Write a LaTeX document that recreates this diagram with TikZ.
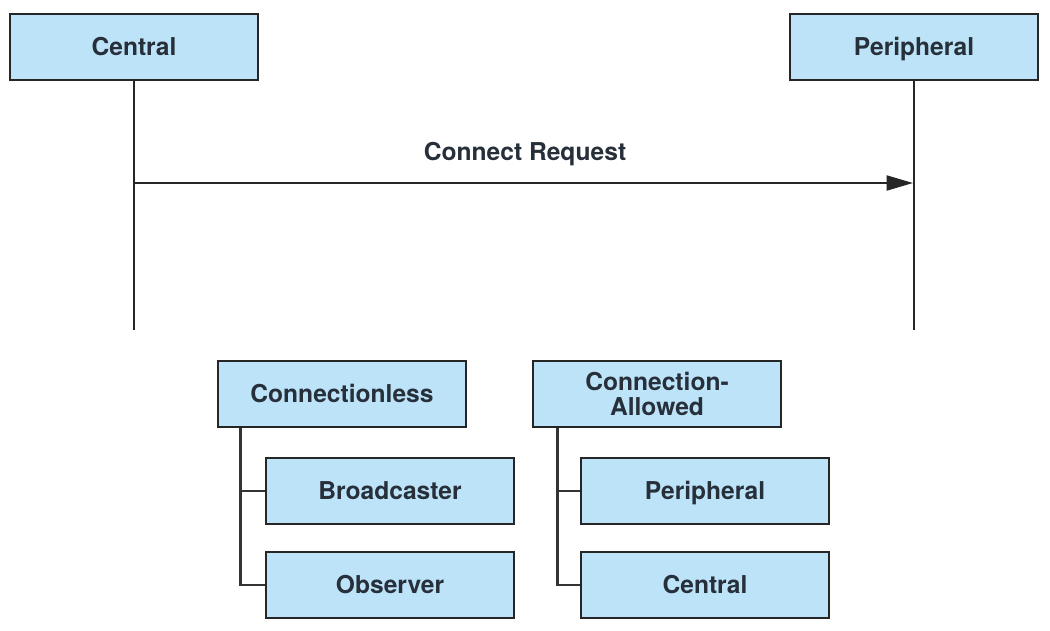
\documentclass[tikz,border=0pt]{standalone}
\usepackage{fontspec}
\setmainfont{TeX Gyre Heros}
\usepackage{tikz}
\usetikzlibrary{arrows.meta}
\definecolor{boxfill}{HTML}{BDE3F8}
\definecolor{boxtext}{HTML}{27303A}

\begin{document}
\begin{tikzpicture}[x=0.02cm, y=-0.02cm,
    rolebox/.style={draw=black!85, line width=1.6pt, fill=boxfill, text=boxtext,
        minimum width=4.96cm, minimum height=1.32cm, inner sep=0pt,
        font=\fontsize{14}{14.7}\selectfont\bfseries, align=center},
    role/.style={rolebox, text height=1.9ex, text depth=0.1ex},
    life/.style={black!85, line width=1.2pt},
    branch/.style={black!80, line width=1.5pt}]
    \useasboundingbox (0,0) rectangle (1050,630);
    % top: roles of the link
    \node[role] (central) at (134,47) {Central};
    \node[role] (peripheral) at (914,47) {Peripheral};
    \coordinate (centralend) at (134,330);
    \coordinate (peripheralend) at (914,330);
    \draw[life] (central) -- (centralend);
    \draw[life] (peripheral) -- (peripheralend);
    \coordinate (reqstart) at (134,183);
    \coordinate (reqend) at (913,183);
    \draw[life, -{Triangle[length=15pt, width=8.5pt]}] (reqstart) -- (reqend);
    \node[text=boxtext, font=\fontsize{14}{14.7}\selectfont\bfseries] (reqlabel) at (525,154) {Connect Request};
    % bottom: the two families
    \node[role] (connless) at (342,394) {Connectionless};
    \node[role] (bcast) at (390,491) {Broadcaster};
    \node[role] (observer) at (390,585) {Observer};
    \node[rolebox] (connallowed) at (657,394) {Connection-\\Allowed};
    \node[role] (periph2) at (705,491) {Peripheral};
    \node[role] (central2) at (705,585) {Central};
    \draw[branch] ([xshift=0.48cm]connless.south west) |- (bcast.west);
    \draw[branch] ([xshift=0.48cm]connless.south west) |- (observer.west);
    \draw[branch] ([xshift=0.52cm]connallowed.south west) |- (periph2.west);
    \draw[branch] ([xshift=0.52cm]connallowed.south west) |- (central2.west);
\end{tikzpicture}
\end{document}
